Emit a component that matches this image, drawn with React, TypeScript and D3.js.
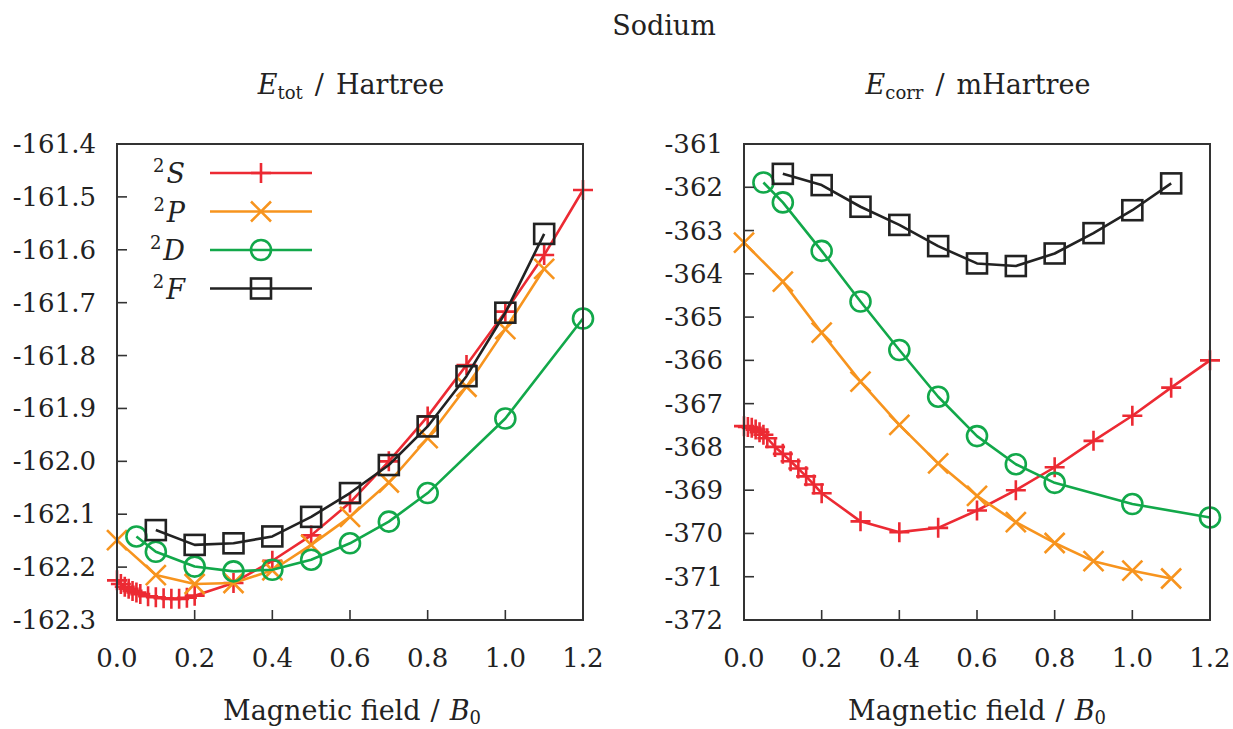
import React from "react";
import * as d3 from "d3";

// Magnetic field strengths (units of B0) for each state
const fieldS = [0, 0.01, 0.02, 0.03, 0.04, 0.05, 0.06, 0.08, 0.1, 0.12, 0.14, 0.16, 0.18, 0.2, 0.3, 0.4, 0.5, 0.6, 0.7, 0.8, 0.9, 1.0, 1.1, 1.2];
const fieldP = [0, 0.1, 0.2, 0.3, 0.4, 0.5, 0.6, 0.7, 0.8, 0.9, 1.0, 1.1];
const fieldD = [0.05, 0.1, 0.2, 0.3, 0.4, 0.5, 0.6, 0.7, 0.8, 1.0, 1.2];
const fieldF = [0.1, 0.2, 0.3, 0.4, 0.5, 0.6, 0.7, 0.8, 0.9, 1.0, 1.1];

// Total energies (Hartree)
const totS = [-162.225, -162.232, -162.237, -162.241, -162.245, -162.248, -162.251, -162.255, -162.257, -162.259, -162.26, -162.26, -162.258, -162.254, -162.23, -162.188, -162.14, -162.078, -162.0, -161.915, -161.818, -161.717, -161.61, -161.487];
const totP = [-162.149, -162.215, -162.232, -162.23, -162.206, -162.158, -162.105, -162.04, -161.956, -161.859, -161.75, -161.636];
const totD = [-162.142, -162.171, -162.199, -162.208, -162.205, -162.186, -162.155, -162.114, -162.06, -161.919, -161.73];
const totF = [-162.13, -162.158, -162.155, -162.142, -162.105, -162.06, -162.007, -161.934, -161.839, -161.719, -161.57];

// Correlation energies (mHartree)
const corrS = [-367.52, -367.54, -367.56, -367.6, -367.66, -367.72, -367.8, -368.0, -368.16, -368.33, -368.5, -368.68, -368.87, -369.07, -369.72, -369.97, -369.87, -369.47, -369.0, -368.47, -367.86, -367.28, -366.63, -366.0];
const corrP = [-363.28, -364.18, -365.36, -366.49, -367.49, -368.38, -369.13, -369.74, -370.22, -370.64, -370.86, -371.04];
const corrD = [-361.89, -362.35, -363.47, -364.64, -365.76, -366.84, -367.75, -368.4, -368.83, -369.32, -369.63];
const corrF = [-361.69, -361.95, -362.45, -362.87, -363.36, -363.76, -363.82, -363.53, -363.06, -362.53, -361.91];

const xTicks = [0, 0.2, 0.4, 0.6, 0.8, 1.0, 1.2];
const stateLetters = ["S", "P", "D", "F"];

const COLORS = ["#ec2a33", "#f7941e", "#12a84a", "#222222"];
const FONT = "DejaVu Serif";
const FS = 26;
const SUB = 18;
const AXIS = "#333";
const INK = "#222";

const locale = d3.formatLocale({ decimal: ".", thousands: ",", grouping: [3], currency: ["", ""], minus: "-" });

type Series = { x: number[]; y: number[]; color: string; marker: string };

function Marker({ kind, x, y, color }: { kind: string; x: number; y: number; color: string }) {
  const s = 10;
  const sw = 2.6;
  if (kind === "plus")
    return <path d={`M${x - s},${y}H${x + s}M${x},${y - s}V${y + s}`} stroke={color} strokeWidth={sw} fill="none" />;
  if (kind === "cross")
    return <path d={`M${x - s},${y - s}L${x + s},${y + s}M${x - s},${y + s}L${x + s},${y - s}`} stroke={color} strokeWidth={sw} fill="none" />;
  if (kind === "circle") return <circle cx={x} cy={y} r={s} stroke={color} strokeWidth={sw} fill="none" />;
  return <rect x={x - s} y={y - s} width={2 * s} height={2 * s} stroke={color} strokeWidth={sw} fill="none" />;
}

function Panel({
  left, right, top, bottom, yDomain, yStep, yFormat, series, legend,
}: {
  left: number; right: number; top: number; bottom: number;
  yDomain: [number, number]; yStep: number; yFormat: string; series: Series[]; legend: boolean;
}) {
  const x = d3.scaleLinear().domain([0, 1.2]).range([left, right]);
  const y = d3.scaleLinear().domain(yDomain).range([bottom, top]);
  const n = Math.round((yDomain[1] - yDomain[0]) / yStep);
  const yTicks = d3.range(n + 1).map((i) => yDomain[0] + i * yStep);
  const fmt = locale.format(yFormat);
  const line = d3.line<[number, number]>().x((d) => x(d[0])).y((d) => y(d[1]));
  const tickLen = 10;

  return (
    <g>
      {series.map((s, si) => {
        const pts = s.x.map((v, i) => [v, s.y[i]] as [number, number]);
        return (
          <g key={si}>
            <path d={line(pts) || ""} stroke={s.color} strokeWidth={2.6} fill="none" strokeLinejoin="round" />
            {pts.map((p, i) => (
              <Marker key={i} kind={s.marker} x={x(p[0])} y={y(p[1])} color={s.color} />
            ))}
          </g>
        );
      })}
      <rect x={left} y={top} width={right - left} height={bottom - top} fill="none" stroke={AXIS} strokeWidth={2} />
      {xTicks.map((t) => (
        <g key={t}>
          <line x1={x(t)} x2={x(t)} y1={bottom} y2={bottom - tickLen} stroke={AXIS} strokeWidth={1.6} />
          <text x={x(t)} y={667} textAnchor="middle" fontFamily={FONT} fontSize={FS} fill={INK}>
            {locale.format(".1f")(t)}
          </text>
        </g>
      ))}
      {yTicks.map((t, i) => (
        <g key={i}>
          <line x1={left} x2={left + tickLen} y1={y(t)} y2={y(t)} stroke={AXIS} strokeWidth={1.6} />
          <text x={left - 21} y={y(t) + 9} textAnchor="end" fontFamily={FONT} fontSize={FS} fill={INK}>
            {fmt(t)}
          </text>
        </g>
      ))}
      {legend &&
        series.map((s, i) => {
          const cy = 173 + i * 38.5;
          return (
            <g key={"lg" + i}>
              <text x={185} y={cy + 10} textAnchor="end" fontFamily={FONT} fontSize={FS + 1} fill={INK}>
                <tspan fontSize={SUB} dy={-11}>2</tspan>
                <tspan fontStyle="italic" dx={2} dy={11}>{stateLetters[i]}</tspan>
              </text>
              <line x1={210} x2={312} y1={cy} y2={cy} stroke={s.color} strokeWidth={2.6} />
              <Marker kind={s.marker} x={261} y={cy} color={s.color} />
            </g>
          );
        })}
    </g>
  );
}

function Heading({ cx, sub, unit }: { cx: number; sub: string; unit: string }) {
  return (
    <text x={cx} y={94} textAnchor="middle" fontFamily={FONT} fontSize={FS + 1} fill={INK}>
      <tspan fontStyle="italic">E</tspan>
      <tspan fontSize={SUB} dy={5}>{sub}</tspan>
      <tspan dx={12} dy={-5}>/</tspan>
      <tspan dx={12}>{unit}</tspan>
    </text>
  );
}

export default function App() {
  const markers = ["plus", "cross", "circle", "square"];
  const fields = [fieldS, fieldP, fieldD, fieldF];
  const tot = [totS, totP, totD, totF];
  const corr = [corrS, corrP, corrD, corrF];
  const totSeries: Series[] = fields.map((f, i) => ({ x: f, y: tot[i], color: COLORS[i], marker: markers[i] }));
  const corrSeries: Series[] = fields.map((f, i) => ({ x: f, y: corr[i], color: COLORS[i], marker: markers[i] }));
  const top = 144;
  const bottom = 620;

  return (
    <svg width={1233} height={729} style={{ position: "absolute", left: 0, top: 0, background: "#fff" }}>
      <rect width={1233} height={729} fill="#fff" />
      <text x={664} y={35} textAnchor="middle" fontFamily={FONT} fontSize={FS + 1} fill={INK}>Sodium</text>

      <Heading cx={351} sub="tot" unit="Hartree" />
      <Heading cx={978} sub="corr" unit="mHartree" />

      <Panel left={117} right={583} top={top} bottom={bottom} yDomain={[-162.3, -161.4]} yStep={0.1} yFormat=".1f" series={totSeries} legend={true} />
      <Panel left={744} right={1210} top={top} bottom={bottom} yDomain={[-372, -361]} yStep={1} yFormat=".0f" series={corrSeries} legend={false} />

      {[352, 977].map((cx) => (
        <text key={cx} x={cx} y={720} textAnchor="middle" fontFamily={FONT} fontSize={FS + 1} fill={INK}>
          Magnetic field
          <tspan dx={10}>/</tspan>
          <tspan dx={10} fontStyle="italic">B</tspan>
          <tspan fontSize={SUB} dy={4}>0</tspan>
        </text>
      ))}
    </svg>
  );
}
